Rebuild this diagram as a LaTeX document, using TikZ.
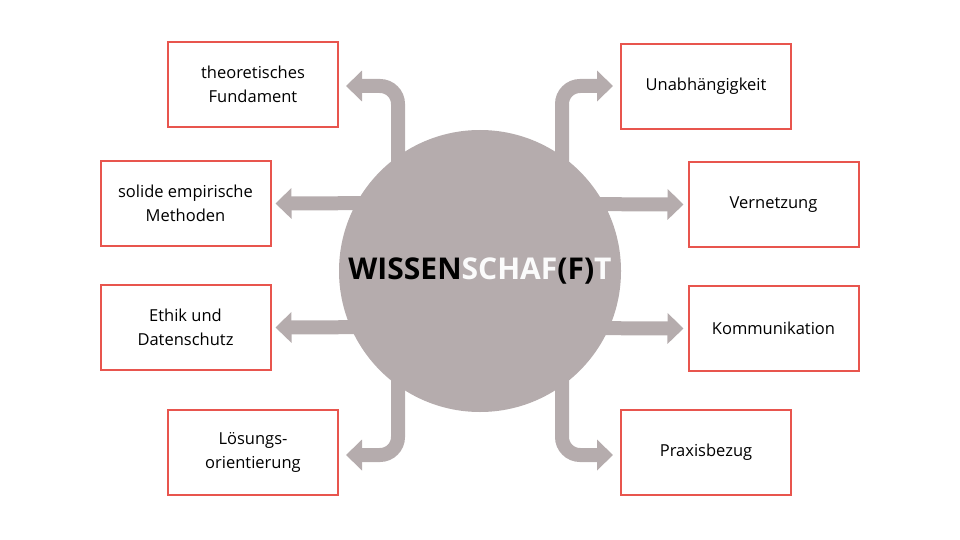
\documentclass[tikz,border=0pt]{standalone}
\usepackage{fontspec}
\setmainfont{Open Sans}
\usetikzlibrary{arrows.meta}
\definecolor{stone}{HTML}{B5ACAD}
\definecolor{brick}{HTML}{E8554E}
\tikzset{
  topic/.style={draw=brick, line width=2pt, minimum width=170pt, minimum height=85pt,
    align=center, font=\fontsize{16.5}{24}\selectfont},
  flow/.style={draw=stone, line width=14pt, rounded corners=18pt,
    -{Triangle[width=30pt,length=16pt]}}
}
\begin{document}
\begin{tikzpicture}[x=1pt,y=-1pt]
\useasboundingbox (0,0) rectangle (960,540);
% topic boxes
\node[topic] (fund) at (253,84.5) {theoretisches\\Fundament};
\node[topic] (emp) at (185.5,203.5) {solide empirische\\Methoden};
\node[topic] (eth) at (185.5,327.5) {Ethik und\\Datenschutz};
\node[topic] (loes) at (253,452.5) {Lösungs-\\orientierung};
\node[topic] (unab) at (706,86.5) {Unabhängigkeit};
\node[topic] (netz) at (773.5,204.5) {Vernetzung};
\node[topic] (komm) at (773.5,328.5) {Kommunikation};
\node[topic] (prax) at (706,452.5) {Praxisbezug};

% arrows out of the circle
\draw[flow] (398,200) |- ([xshift=7pt]fund.east |- 0,86);
\draw[flow] (562,200) |- ([xshift=-7pt]unab.west |- 0,86);
\draw[flow] (400,203) -- ([xshift=4pt]emp.east);
\draw[flow] (400,327) -- ([xshift=4pt]eth.east);
\draw[flow] (560,204) -- ([xshift=-4pt]netz.west);
\draw[flow] (560,328) -- ([xshift=-4pt]komm.west);
\draw[flow] (398,340) |- ([xshift=7pt]loes.east |- 0,455);
\draw[flow] (562,340) |- ([xshift=-7pt]prax.west |- 0,455);

% centre
\node[circle, fill=stone, minimum size=282pt, inner sep=0pt] (core) at (480,271) {};
\node[font=\fontsize{30}{30}\selectfont\bfseries] (title) at (core) {WISSEN\textcolor{white!95!stone}{SCHAF}(F)\textcolor{white!95!stone}{T}};
\end{tikzpicture}
\end{document}
